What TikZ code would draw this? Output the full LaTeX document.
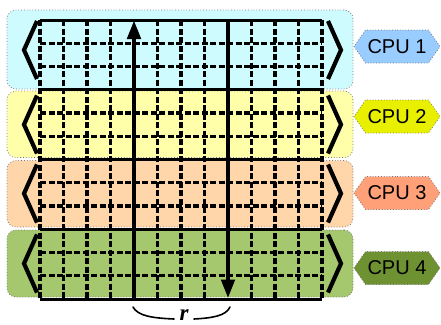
\documentclass[tikz,border=0pt]{standalone}
\usepackage{fontspec}
\setmainfont{Liberation Sans}
\newfontfamily\rfont{Liberation Serif}
\usetikzlibrary{arrows.meta,shapes.symbols}
\definecolor{bandA}{RGB}{206,252,254}
\definecolor{bandB}{RGB}{255,255,170}
\definecolor{bandC}{RGB}{255,213,170}
\definecolor{bandD}{RGB}{165,200,110}
\definecolor{cpuA}{RGB}{153,204,255}
\definecolor{cpuB}{RGB}{232,240,0}
\definecolor{cpuC}{RGB}{255,160,120}
\definecolor{cpuD}{RGB}{110,145,50}
\definecolor{edgegray}{RGB}{120,120,120}
\begin{document}
\begin{tikzpicture}[x=1pt,y=-1pt,
 band/.style={draw=edgegray, dotted, line width=0.8pt, rounded corners=9pt, minimum width=346pt, inner sep=0pt},
 cpu/.style={shape=signal, signal to=west and east, signal pointer angle=110, draw=edgegray, dotted, line width=0.8pt, minimum width=86pt, minimum height=33pt, inner sep=0pt, font=\fontsize{20pt}{20pt}\selectfont},
 gridsolid/.style={line width=3pt},
 griddash/.style={line width=3.4pt, dash pattern=on 6pt off 2.5pt},
 bigarrow/.style={line width=4.5pt, -{Triangle[length=19pt,width=13pt]}},
 bracket/.style={line width=4.2pt, miter limit=10},
 brace/.style={line width=1.6pt, line cap=round}
]
\useasboundingbox (0,0) rectangle (441,324);
% bands
\node[band, fill=bandA, minimum height=79pt] (b1) at (180,49.5) {};
\node[band, fill=bandB, minimum height=66.5pt] (b2) at (180,124.25) {};
\node[band, fill=bandC, minimum height=66.5pt] (b3) at (180,193.75) {};
\node[band, fill=bandD, minimum height=67pt] (b4) at (180,263.5) {};
% grid
\foreach \i in {0,1,2,3,5,6,7,9,10,11,12}
  \draw[griddash] ({40+23.5*\i},20) -- ({40+23.5*\i},299);
\foreach \j in {1,2,4,5,7,8,10,11}
  \draw[griddash] (40,{20+23.25*\j}) -- (322,{20+23.25*\j});
\foreach \j in {0,3,6,9,12}
  \draw[gridsolid] (40,{20+23.25*\j}) -- (322,{20+23.25*\j});
% arrows
\coordinate (upstart) at (134,299);
\coordinate (upend) at (134,20);
\coordinate (downstart) at (228,20);
\coordinate (downend) at (228,298.5);
\draw[bigarrow] (upstart) -- (upend);
\draw[bigarrow] (downstart) -- (downend);
% brackets
\foreach \c in {50,124.5,193.5,263.5}{
  \draw[bracket] (37,{\c-29}) -- (24,\c) -- (37,{\c+29});
  \draw[bracket] (328,{\c-29}) -- (341,\c) -- (328,{\c+29});
}
% cpu labels
\node[cpu, fill=cpuA] (c1) at (397,46.5) {CPU 1};
\node[cpu, fill=cpuB] (c2) at (397,116.5) {CPU 2};
\node[cpu, fill=cpuC] (c3) at (397,193) {CPU 3};
\node[cpu, fill=cpuD] (c4) at (397,268) {CPU 4};
% r brace
\coordinate (brL) at (133,307);
\coordinate (brLm) at (174,319);
\coordinate (brRm) at (194,319);
\coordinate (brR) at (230,307);
\draw[brace] (brL) .. controls (138,316) and (152,318) .. (brLm);
\draw[brace] (brRm) .. controls (212,318) and (226,316) .. (brR);
\node[font=\rfont\bfseries\itshape\fontsize{23pt}{23pt}\selectfont, anchor=base, inner sep=0pt] (rlabel) at (184,320) {r};
\end{tikzpicture}
\end{document}
